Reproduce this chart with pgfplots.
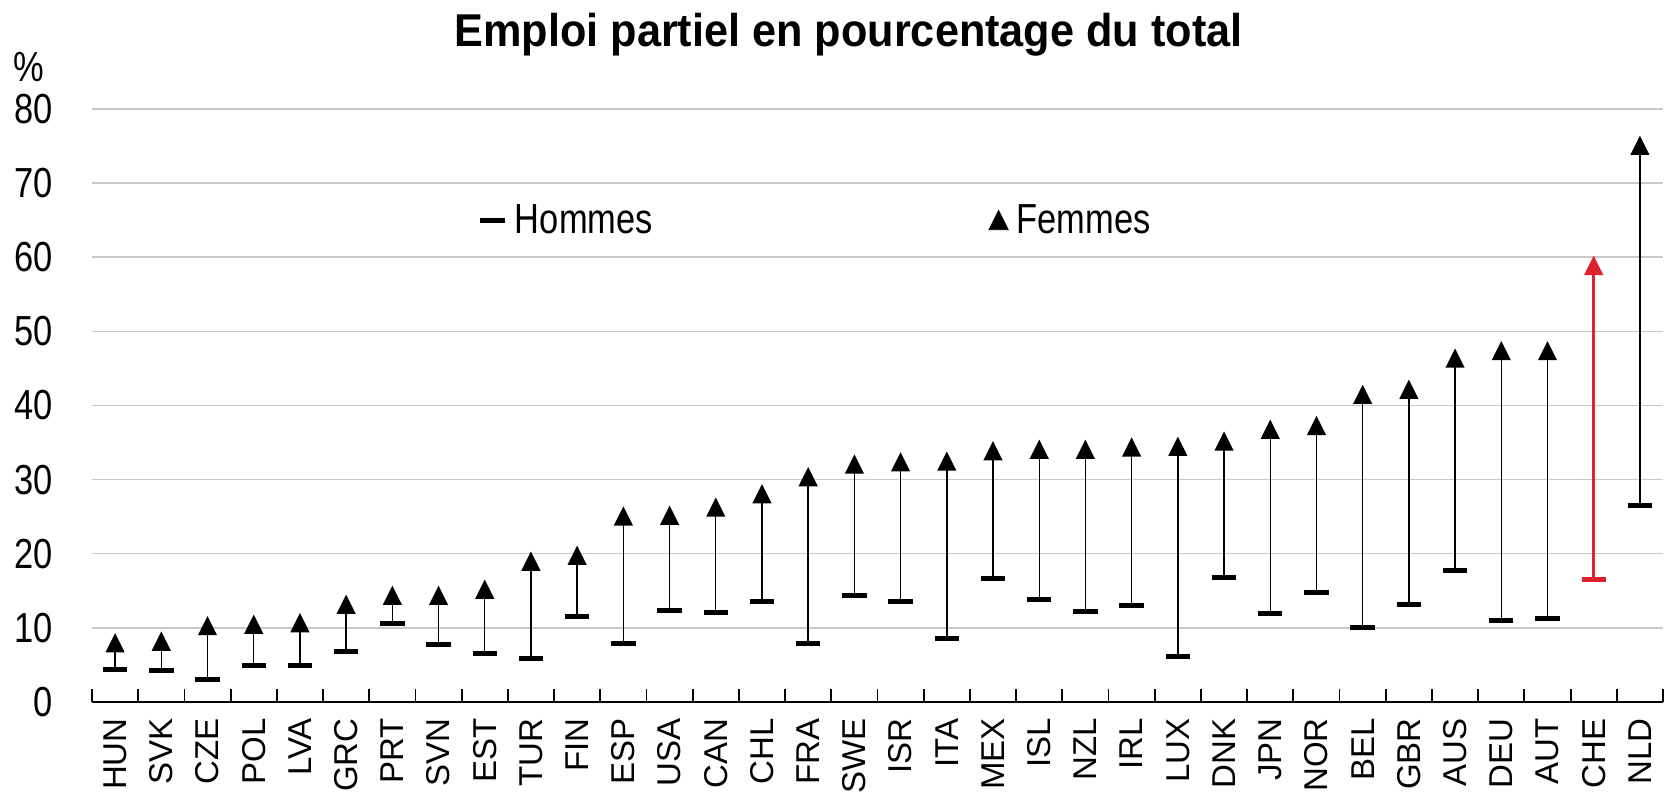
\documentclass[border=0pt]{standalone}
\usepackage{fontspec}
\setmainfont{Liberation Sans}
\newfontfamily\narrow[FakeStretch=0.82]{Liberation Sans}
\newfontfamily\titlefont[FakeStretch=0.94]{Liberation Sans}
\usepackage{pgfplots}
\usepackage{pgfplotstable}
\pgfplotsset{compat=1.18}
\definecolor{chered}{RGB}{220,35,45}
\definecolor{gridgray}{RGB}{200,200,200}
\newcommand\xl[1]{{\fontsize{16.5}{18}\selectfont #1}}

\pgfdeclareplotmark{tri}{%
  \pgfpathmoveto{\pgfqpoint{-4.8pt}{-4.8pt}}%
  \pgfpathlineto{\pgfqpoint{4.8pt}{-4.8pt}}%
  \pgfpathlineto{\pgfqpoint{0pt}{4.8pt}}%
  \pgfpathclose
  \pgfusepathqfill}

\pgfplotstableread{
x c h f
0 HUN 4.4 8.0
1 SVK 4.2 8.2
2 CZE 3.1 10.3
3 POL 4.9 10.5
4 LVA 4.9 10.7
5 GRC 6.8 13.2
6 PRT 10.6 14.4
7 SVN 7.8 14.4
8 EST 6.6 15.2
9 TUR 5.9 19.0
10 FIN 11.5 19.8
11 ESP 7.9 25.1
12 USA 12.3 25.2
13 CAN 12.1 26.3
14 CHL 13.5 28.1
15 FRA 7.9 30.4
16 SWE 14.4 32.1
17 ISR 13.5 32.4
18 ITA 8.5 32.5
19 MEX 16.6 33.9
20 ISL 13.8 34.1
21 NZL 12.2 34.1
22 IRL 13.0 34.4
23 LUX 6.1 34.5
24 DNK 16.8 35.2
25 JPN 12.0 36.8
26 NOR 14.8 37.3
27 BEL 10.1 41.5
28 GBR 13.2 42.2
29 AUS 17.7 46.4
30 DEU 11.0 47.4
31 AUT 11.2 47.4
33 NLD 26.5 75.1
}\data

\pgfplotstableread{
x c h f
32 CHE 16.5 58.9
}\che

\begin{document}
\begin{tikzpicture}
\path[use as bounding box] (-46pt,-45pt) rectangle (789.5pt,351pt);
\begin{axis}[
  at={(0pt,0pt)}, anchor=south west,
  scale only axis, width=785.5pt, height=296.5pt,
  xmin=-0.5, xmax=33.5, ymin=0, ymax=80,
  axis x line*=bottom, axis y line*=left,
  y axis line style={draw=none},
  x axis line style={line width=0.9pt, -},
  xtick={0,...,33},
  xticklabels={\xl{HUN},\xl{SVK},\xl{CZE},\xl{POL},\xl{LVA},\xl{GRC},\xl{PRT},\xl{SVN},\xl{EST},\xl{TUR},\xl{FIN},\xl{ESP},\xl{USA},\xl{CAN},\xl{CHL},\xl{FRA},\xl{SWE},\xl{ISR},\xl{ITA},\xl{MEX},\xl{ISL},\xl{NZL},\xl{IRL},\xl{LUX},\xl{DNK},\xl{JPN},\xl{NOR},\xl{BEL},\xl{GBR},\xl{AUS},\xl{DEU},\xl{AUT},\xl{CHE},\xl{NLD}},
  minor xtick={-0.5,0.5,...,33.5},
  major tick length=0pt,
  minor tick length=6.5pt,
  tick align=inside,
  xtick pos=bottom,
  minor x tick style={black, line width=0.9pt},
  ytick={0,10,...,80},
  ymajorgrids,
  major grid style={gridgray, line width=0.75pt},
  /pgf/number format/assume math mode=true,
  yticklabel style={anchor=east, inner sep=0pt, xshift=-19.5pt, font=\narrow\fontsize{21}{21}\selectfont},
  xticklabel style={yshift=-8pt, anchor=east, rotate=90, inner sep=0pt, font=\fontsize{16.5}{18}\selectfont},
  legend columns=2,
  legend style={at={(0.2452,0.8126)}, anchor=west, draw=none, fill=none, inner sep=0pt,
    font=\narrow\fontsize{21}{21}\selectfont,
    /tikz/every even column/.append style={column sep=163.9pt},
    nodes={inner xsep=4pt, inner ysep=0pt}},
  clip=false,
]
\addlegendimage{legend image code/.code={\draw[black, line width=2.5pt] (0pt,0pt) -- (12.2pt,0pt);}}
\addlegendentry{Hommes}
\addlegendimage{legend image code/.code={\fill[black] (0pt,-4.8pt) -- (9.6pt,-4.8pt) -- (4.8pt,4.8pt) -- cycle;}}
\addlegendentry{Femmes}

\addplot[forget plot, black, line width=0.7pt, mark=none, quiver={u=0, v=\thisrow{f}-\thisrow{h}}] table[x=x, y=h] {\data};
\addplot[forget plot, only marks, mark=-, mark size=6.1pt, mark options={line width=2.5pt, black}] table[x=x, y=h] {\data};
\addplot[forget plot, only marks, mark=tri, mark options={black, fill=black}] table[x=x, y=f] {\data};

\addplot[forget plot, chered, line width=1.4pt, mark=none, quiver={u=0, v=\thisrow{f}-\thisrow{h}}] table[x=x, y=h] {\che};
\addplot[forget plot, only marks, mark=-, mark size=6.1pt, mark options={line width=2.5pt, chered}] table[x=x, y=h] {\che};
\addplot[forget plot, only marks, mark=tri, mark options={chered, fill=chered}] table[x=x, y=f] {\che};
\end{axis}
\node[font=\titlefont\bfseries\fontsize{23}{23}\selectfont, anchor=base, inner sep=0pt] at (378.25pt, 327.5pt) {Emploi partiel en pourcentage du total};
\node[font=\narrow\fontsize{21}{21}\selectfont, anchor=base west, inner sep=0pt] at (-39.5pt, 310pt) {\%};
\end{tikzpicture}
\end{document}
